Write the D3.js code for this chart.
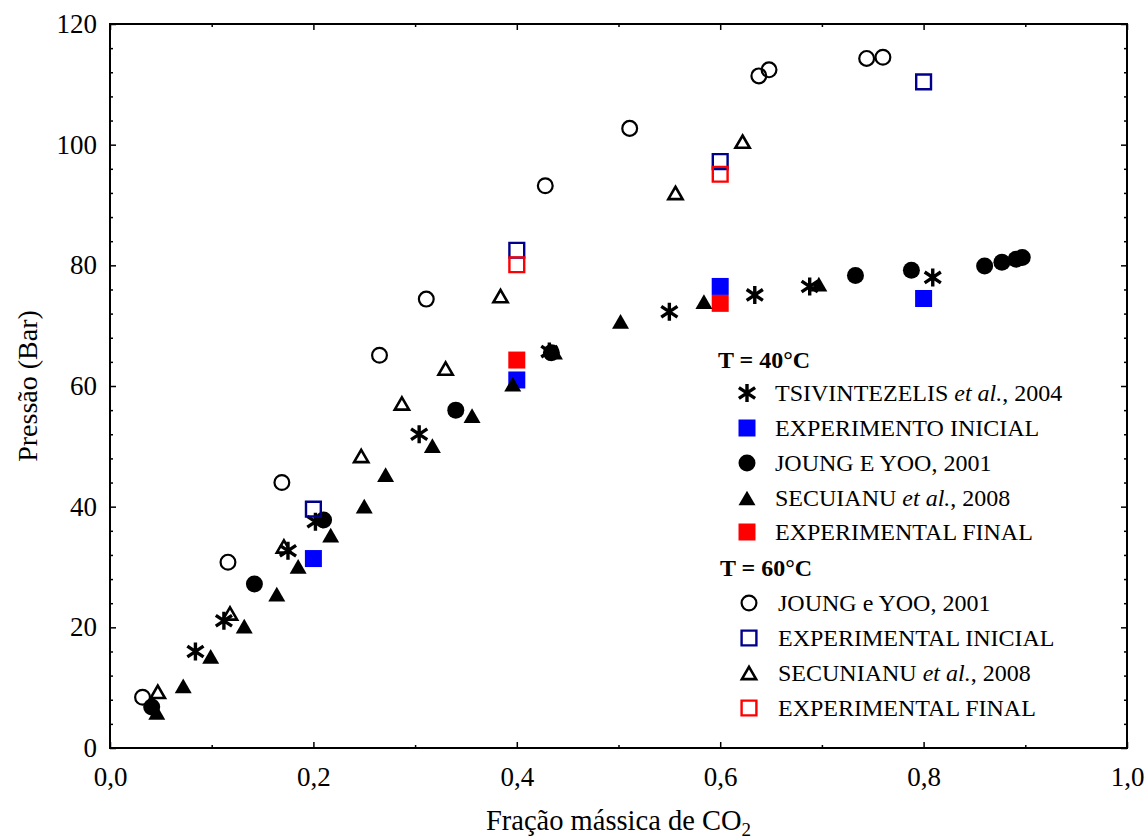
<!DOCTYPE html>
<html>
<head>
<meta charset="utf-8">
<script src="https://cdn.jsdelivr.net/npm/d3@7"></script>
<style>
  html, body { margin: 0; padding: 0; background: #fff; }
  svg { display: block; font-family: "Liberation Serif", "Times New Roman", serif; }
</style>
</head>
<body>
<svg id="chart" width="1148" height="839"></svg>
<script>
// ---- data: CO2 mass fraction vs pressure (bar) ----
// T = 40 °C
const tsivintezelis40 = [[0.084,16.0],[0.112,21.1],[0.175,32.7],[0.202,37.5],[0.304,52.0],[0.432,65.7],[0.550,72.3],[0.634,75.1],[0.688,76.5],[0.809,78.0]];
const experimentoInicial40 = [[0.2,31.4],[0.4,61.0],[0.6,76.5],[0.8,74.5]];
const joungYoo40 = [[0.041,6.8],[0.142,27.2],[0.210,37.8],[0.340,56.0],[0.434,65.5],[0.733,78.3],[0.788,79.2],[0.860,79.9],[0.877,80.5],[0.891,81.0],[0.897,81.3]];
const secuianu40 = [[0.046,5.9],[0.072,10.3],[0.099,15.2],[0.132,20.2],[0.164,25.5],[0.185,30.1],[0.217,35.3],[0.250,40.1],[0.271,45.3],[0.317,50.1],[0.356,55.1],[0.396,60.3],[0.437,65.6],[0.502,70.7],[0.584,74.0],[0.697,76.9]];
const experimentalFinal40 = [[0.4,64.3],[0.6,73.7]];
// T = 60 °C
const joungYoo60 = [[0.032,8.4],[0.116,30.8],[0.169,44.0],[0.265,65.1],[0.311,74.4],[0.428,93.2],[0.511,102.7],[0.638,111.4],[0.648,112.4],[0.744,114.3],[0.760,114.5]];
const experimentalInicial60 = [[0.2,39.6],[0.4,82.5],[0.6,97.2],[0.8,110.4]];
const secuianu60 = [[0.047,9.3],[0.118,22.3],[0.171,33.4],[0.247,48.4],[0.287,57.1],[0.330,62.9],[0.384,74.9],[0.556,92.0],[0.622,100.5]];
const experimentalFinal60 = [[0.4,80.1],[0.6,95.1]];

// axis ticks
const xMajorTicks = [0, 0.2, 0.4, 0.6, 0.8, 1.0];
const xMinorTicks = [0.1, 0.3, 0.5, 0.7, 0.9];
const yMajorTicks = [0, 20, 40, 60, 80, 100, 120];
const yMinorTicks = d3.range(4, 120, 4).filter(v => v % 20 !== 0);

const xLabel = "Fração mássica de CO";
const yLabel = "Pressão (Bar)";

// ---- layout ----
const svg = d3.select("#chart");
const plotLeft = 110, plotTop = 24, plotRight = 1127, plotBottom = 748;

const x = d3.scaleLinear().domain([0, 1]).range([plotLeft, plotRight]);
const y = d3.scaleLinear().domain([0, 120]).range([plotBottom, plotTop]);

const fmtX = d => d3.format(".1f")(d).replace(".", ",");

// triangle centred on its bounding box
const triangleBox = {
  draw(ctx, size) {
    const w = Math.sqrt(size * 4 / Math.sqrt(3));
    const h = w * Math.sqrt(3) / 2;
    ctx.moveTo(0, -h / 2);
    ctx.lineTo(w / 2, h / 2);
    ctx.lineTo(-w / 2, h / 2);
    ctx.closePath();
  }
};

// six-armed star: one vertical stroke plus two wide diagonals
const starSix = {
  draw(ctx, size) {
    const r = Math.sqrt(size) / 2;
    const a = r * 0.9, b = r * 0.6;
    ctx.moveTo(0, -r); ctx.lineTo(0, r);
    ctx.moveTo(-a, -b); ctx.lineTo(a, b);
    ctx.moveTo(-a, b); ctx.lineTo(a, -b);
  }
};

const styles = {
  asterisk:   { type: starSix, size: 18 * 18, fill: "none", stroke: "#000", sw: 3.4 },
  blueFill:   { type: d3.symbolSquare, size: 17 * 17, fill: "#0000ff", stroke: "none", sw: 0 },
  dot:        { type: d3.symbolCircle, size: Math.PI * 8.5 * 8.5, fill: "#000", stroke: "none", sw: 0 },
  triFill:    { type: triangleBox, size: 125, fill: "#000", stroke: "none", sw: 0 },
  redFill:    { type: d3.symbolSquare, size: 17 * 17, fill: "#ff0000", stroke: "none", sw: 0 },
  ring:       { type: d3.symbolCircle, size: Math.PI * 7.4 * 7.4, fill: "none", stroke: "#000", sw: 2.2 },
  navyOpen:   { type: d3.symbolSquare, size: 14.8 * 14.8, fill: "none", stroke: "#00008b", sw: 2.4 },
  triOpen:    { type: triangleBox, size: 88, fill: "none", stroke: "#000", sw: 2.6 },
  redOpen:    { type: d3.symbolSquare, size: 14.8 * 14.8, fill: "none", stroke: "#ff0000", sw: 2.4 }
};

function drawSeries(data, st) {
  const sym = d3.symbol().type(st.type).size(st.size);
  svg.append("g").selectAll("path").data(data).join("path")
    .attr("transform", d => `translate(${x(d[0])},${y(d[1])})`)
    .attr("d", sym)
    .attr("fill", st.fill)
    .attr("stroke", st.stroke)
    .attr("stroke-width", st.sw)
    .attr("stroke-linejoin", "miter");
}

// ---- markers ----
drawSeries(tsivintezelis40, styles.asterisk);
drawSeries(experimentoInicial40, styles.blueFill);
drawSeries(experimentalFinal40, styles.redFill);
drawSeries(joungYoo40, styles.dot);
drawSeries(secuianu40, styles.triFill);
drawSeries(joungYoo60, styles.ring);
drawSeries(experimentalInicial60, styles.navyOpen);
drawSeries(secuianu60, styles.triOpen);
drawSeries(experimentalFinal60, styles.redOpen);

// ---- axes (ticks point inward on all four sides) ----
function axisGroup(axis, tx, ty) {
  const g = svg.append("g").attr("transform", `translate(${tx},${ty})`).call(axis);
  g.select(".domain").remove();
  g.selectAll(".tick line").attr("stroke", "#000").attr("stroke-width", 1.5);
  g.selectAll("text").attr("font-size", 27).attr("fill", "#000")
    .attr("font-family", "Liberation Serif, Times New Roman, serif");
  return g;
}

axisGroup(d3.axisBottom(x).tickValues(xMajorTicks).tickSize(-6).tickPadding(19).tickFormat(fmtX), 0, plotBottom);
axisGroup(d3.axisBottom(x).tickValues(xMinorTicks).tickSize(-3).tickFormat(""), 0, plotBottom);
axisGroup(d3.axisTop(x).tickValues(xMajorTicks).tickSize(-6).tickFormat(""), 0, plotTop);
axisGroup(d3.axisTop(x).tickValues(xMinorTicks).tickSize(-3).tickFormat(""), 0, plotTop);

axisGroup(d3.axisLeft(y).tickValues(yMajorTicks).tickSize(-6).tickPadding(13).tickFormat(d3.format("d")), plotLeft, 0);
axisGroup(d3.axisLeft(y).tickValues(yMinorTicks).tickSize(-3).tickFormat(""), plotLeft, 0);
axisGroup(d3.axisRight(y).tickValues(yMajorTicks).tickSize(-6).tickFormat(""), plotRight, 0);
axisGroup(d3.axisRight(y).tickValues(yMinorTicks).tickSize(-3).tickFormat(""), plotRight, 0);

// frame
svg.append("rect")
  .attr("x", plotLeft).attr("y", plotTop)
  .attr("width", plotRight - plotLeft).attr("height", plotBottom - plotTop)
  .attr("fill", "none").attr("stroke", "#000").attr("stroke-width", 2);

// ---- axis titles ----
const xt = svg.append("text")
  .attr("x", (plotLeft + plotRight) / 2).attr("y", 830)
  .attr("text-anchor", "middle").attr("font-size", 28.5).attr("fill", "#000");
xt.append("tspan").text(xLabel);
xt.append("tspan").attr("font-size", 19).attr("dy", 6).text("2");

svg.append("text")
  .attr("transform", `translate(37,${(plotTop + plotBottom) / 2}) rotate(-90)`)
  .attr("text-anchor", "middle").attr("font-size", 28).attr("fill", "#000")
  .text(yLabel);

// ---- legend ----
const legendGroups = [
  { title: "T = 40°C", tx: 718, ty: 368, mx: 747, textX: 775, items: [
    { st: styles.asterisk, cy: 393, parts: [["TSIVINTEZELIS ", false], ["et al.", true], [", 2004", false]] },
    { st: styles.blueFill, cy: 428, parts: [["EXPERIMENTO INICIAL", false]] },
    { st: styles.dot,      cy: 463, parts: [["JOUNG E YOO, 2001", false]] },
    { st: styles.triFill,  cy: 498, parts: [["SECUIANU ", false], ["et al.", true], [", 2008", false]] },
    { st: styles.redFill,  cy: 532, parts: [["EXPERIMENTAL FINAL", false]] }
  ]},
  { title: "T = 60°C", tx: 720, ty: 576, mx: 749, textX: 778, items: [
    { st: styles.ring,     cy: 603, parts: [["JOUNG e YOO, 2001", false]] },
    { st: styles.navyOpen, cy: 638, parts: [["EXPERIMENTAL INICIAL", false]] },
    { st: styles.triOpen,  cy: 673, parts: [["SECUNIANU ", false], ["et al.", true], [", 2008", false]] },
    { st: styles.redOpen,  cy: 708, parts: [["EXPERIMENTAL FINAL", false]] }
  ]}
];

const legend = svg.append("g");
legendGroups.forEach(grp => {
  legend.append("text").attr("x", grp.tx).attr("y", grp.ty)
    .attr("font-size", 24).attr("font-weight", "bold").attr("fill", "#000").text(grp.title);
  grp.items.forEach(it => {
    const sym = d3.symbol().type(it.st.type).size(it.st.size);
    legend.append("path")
      .attr("transform", `translate(${grp.mx},${it.cy})`)
      .attr("d", sym).attr("fill", it.st.fill).attr("stroke", it.st.stroke)
      .attr("stroke-width", it.st.sw);
    const t = legend.append("text").attr("x", grp.textX).attr("y", it.cy + 8)
      .attr("font-size", 24).attr("fill", "#000");
    it.parts.forEach(([s, italic]) => {
      t.append("tspan").attr("font-style", italic ? "italic" : "normal").text(s);
    });
  });
});
</script>
</body>
</html>
